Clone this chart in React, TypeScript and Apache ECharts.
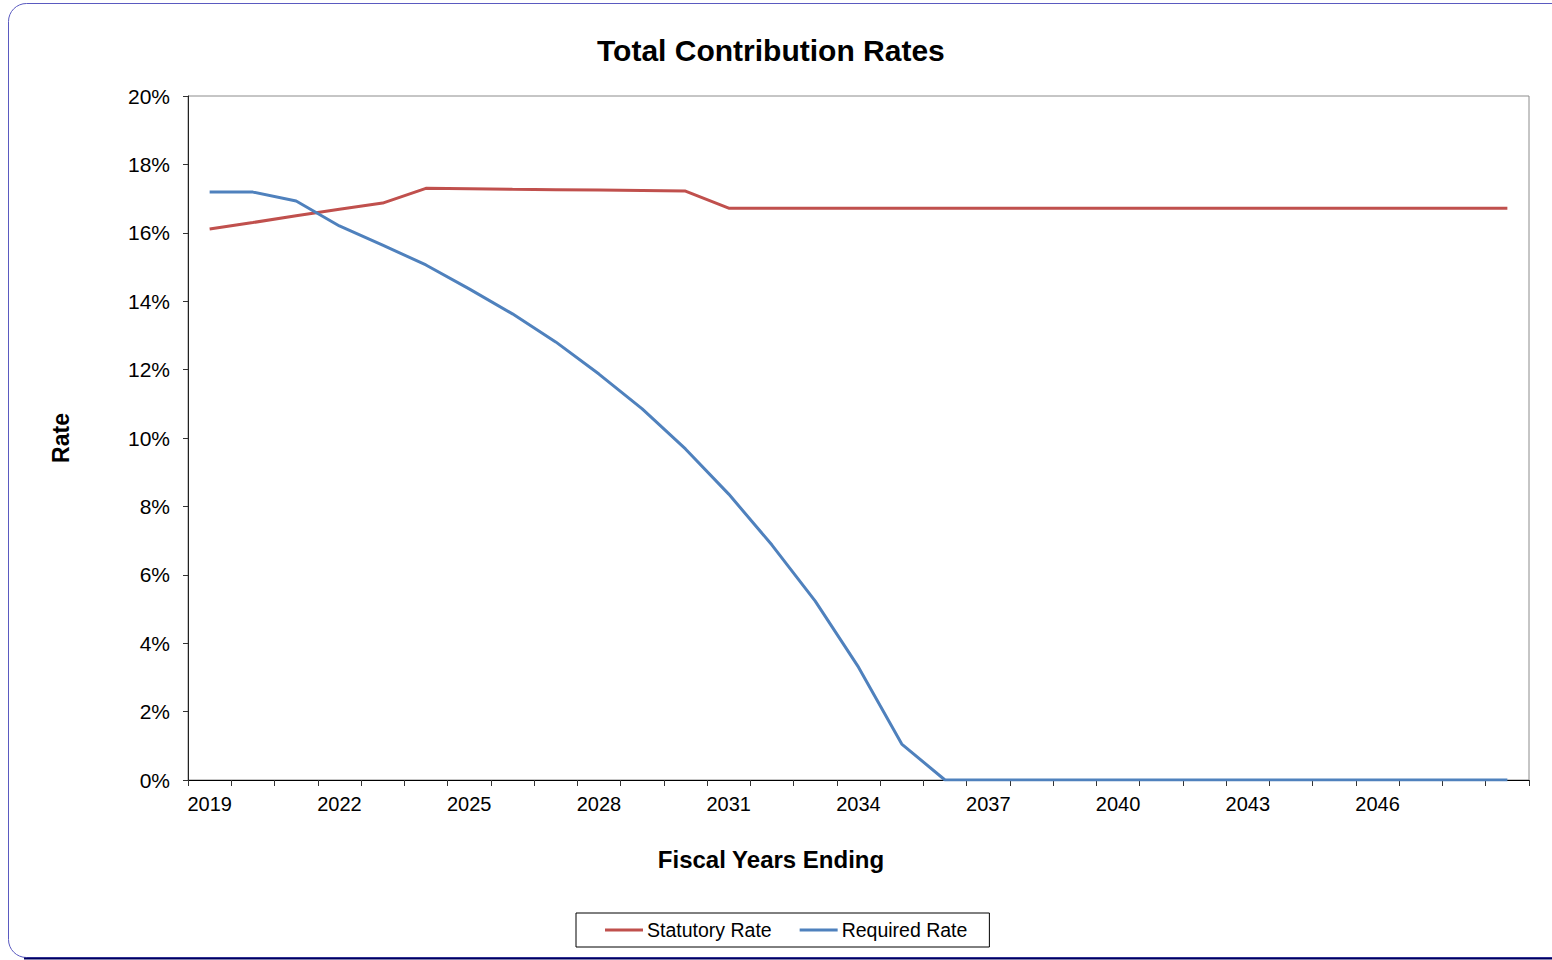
import React, { useEffect, useRef } from "react";
import * as echarts from "echarts";

const years: string[] = [];
for (let y = 2019; y <= 2049; y++) years.push(String(y));

const statutoryRate = [
  16.11, 16.3, 16.5, 16.69, 16.87, 17.3, 17.29, 17.27, 17.26, 17.25, 17.24, 17.22,
  16.72, 16.72, 16.72, 16.72, 16.72, 16.72, 16.72, 16.72, 16.72, 16.72, 16.72, 16.72,
  16.72, 16.72, 16.72, 16.72, 16.72, 16.72, 16.72,
];

const requiredRate = [
  17.19, 17.19, 16.93, 16.2, 15.64, 15.06, 14.36, 13.63, 12.81, 11.87, 10.85, 9.68,
  8.36, 6.87, 5.23, 3.3, 1.05, 0, 0, 0, 0, 0, 0, 0, 0, 0, 0, 0, 0, 0, 0,
];

const FONT = "Liberation Sans, Arial, sans-serif";

export default function App() {
  const ref = useRef<HTMLDivElement>(null);
  useEffect(() => {
    document.body.style.margin = "0";
    document.body.style.overflow = "hidden";
    const chart = echarts.init(ref.current!, null, { renderer: "svg" });
    chart.setOption({
      animation: false,
      backgroundColor: "#ffffff",
      textStyle: { fontFamily: FONT },
      title: {
        text: "Total Contribution Rates",
        left: 592,
        top: 30,
        textStyle: { fontSize: 30, fontWeight: "bold", color: "#000", fontFamily: FONT },
      },
      graphic: [
        {
          type: "rect",
          shape: { x: 8.5, y: 3.5, width: 1570, height: 954, r: 18 },
          style: { fill: "none", stroke: "#5a5ac0", lineWidth: 1 },
          silent: true,
        },
        {
          type: "line",
          shape: { x1: 24, y1: 958.5, x2: 1560, y2: 958.5 },
          style: { stroke: "#000060", lineWidth: 2 },
          silent: true,
        },
      ],
      legend: {
        left: 576,
        top: 913,
        padding: [7, 22, 7, 29],
        borderColor: "#000",
        borderWidth: 1,
        itemGap: 28,
        itemWidth: 38,
        itemHeight: 3,
        icon: "rect",
        textStyle: { fontSize: 19.5, color: "#000", fontFamily: FONT, padding: [0, 0, 0, -1] },
        data: ["Statutory Rate", "Required Rate"],
      },
      grid: {
        left: 188,
        right: 23,
        top: 96,
        bottom: 180,
        show: true,
        borderColor: "#8c8c8c",
        borderWidth: 1,
      },
      xAxis: {
        type: "category",
        data: years,
        boundaryGap: true,
        name: "Fiscal Years Ending",
        nameLocation: "middle",
        nameGap: 67,
        nameTextStyle: {
          fontSize: 24,
          fontWeight: "bold",
          color: "#000",
          fontFamily: FONT,
          padding: [0, 175, 0, 0],
        },
        axisLine: { lineStyle: { color: "#000", width: 1 } },
        axisTick: { show: true, interval: 0, length: 6, lineStyle: { color: "#333" } },
        axisLabel: {
          interval: (index: number) => index % 3 === 0 && index < 30,
          fontSize: 20,
          color: "#000",
          margin: 14,
          fontFamily: FONT,
        },
        splitLine: { show: false },
      },
      yAxis: {
        type: "value",
        min: 0,
        max: 20,
        interval: 2,
        name: "Rate",
        nameLocation: "middle",
        nameRotate: 90,
        nameGap: 116,
        nameTextStyle: { fontSize: 23, fontWeight: "bold", color: "#000", fontFamily: FONT },
        axisLine: { show: true, lineStyle: { color: "#222", width: 1 } },
        axisTick: { show: true, length: 5, lineStyle: { color: "#333" } },
        axisLabel: {
          fontSize: 21,
          color: "#000",
          margin: 18,
          fontFamily: FONT,
          formatter: (v: number) => `${v}%`,
        },
        splitLine: { show: false },
      },
      series: [
        {
          name: "Statutory Rate",
          type: "line",
          data: statutoryRate,
          showSymbol: false,
          symbol: "none",
          lineStyle: { color: "#C0504D", width: 3 },
          itemStyle: { color: "#C0504D" },
        },
        {
          name: "Required Rate",
          type: "line",
          data: requiredRate,
          showSymbol: false,
          symbol: "none",
          lineStyle: { color: "#4F81BD", width: 3 },
          itemStyle: { color: "#4F81BD" },
        },
      ],
    });
    return () => chart.dispose();
  }, []);
  return (
    <div
      ref={ref}
      style={{ position: "fixed", left: 0, top: 0, width: 1552, height: 960 }}
    />
  );
}
